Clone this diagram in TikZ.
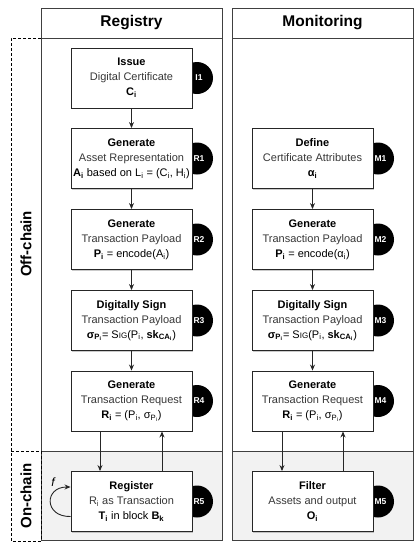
\documentclass[tikz,border=0pt]{standalone}
\usepackage{fontspec}
\setmainfont{Liberation Sans}
\usetikzlibrary{shadows,arrows.meta,calc}
\newcommand\subt[1]{{\color{black!78}#1}}
\newcommand\sigfn{S{\fontsize{8}{9}\selectfont IG}}
\tikzset{
  lane/.style={draw=black!75, line width=0.9pt},
  stepbox/.style={draw=black!85, fill=white, line width=0.9pt, minimum width=121pt, minimum height=60pt,
    align=center, font=\fontsize{11}{15}\selectfont, inner sep=0pt,
    drop shadow={shadow xshift=1.3pt, shadow yshift=-1.3pt, opacity=0.35, fill=black!60}},
  badge/.style={circle, fill=black, minimum size=32pt, inner sep=0pt},
  badgelbl/.style={text=white, font=\fontsize{8.5}{8.5}\selectfont\bfseries, inner sep=0pt},
  arr/.style={-{Stealth[length=6pt,width=5pt]}, line width=0.9pt, black!85},
  hdr/.style={font=\fontsize{15.5}{15.5}\selectfont\bfseries},
  side/.style={font=\fontsize{15}{15}\selectfont\bfseries, rotate=90},
}
\begin{document}
\begin{tikzpicture}[x=1pt,y=-1pt]
\useasboundingbox (0,0) rectangle (420,550);
% lanes
\fill[gray!10] (41,451) rectangle (222,540);
\fill[gray!10] (232,451) rectangle (413,540);
\draw[lane] (41,8) rectangle (222,540);
\draw[lane] (41,38) -- (222,38);
\draw[lane] (41,451) -- (222,451);
\draw[lane] (232,8) rectangle (413,540);
\draw[lane] (232,38) -- (413,38);
\draw[lane] (232,451) -- (413,451);
\node[hdr] (hreg) at (131.5,23) {Registry};
\node[hdr] (hmon) at (322.5,23) {Monitoring};
% dashed regions
\draw[line width=0.9pt, dash pattern=on 3pt off 2pt] (41,38) -- (11,38) -- (11,541) -- (41,541) -- (41,451);
\draw[line width=0.9pt, dash pattern=on 3pt off 2pt] (11,451) -- (41,451);
\node[side] (offc) at (26,244) {Off-chain};
\node[side] (onc) at (26,496) {On-chain};
% badges (behind boxes)
\node[badge] (bI1) at (197,78) {};
\node[badge] (bR1) at (197,158.5) {};
\node[badge] (bR2) at (197,239.5) {};
\node[badge] (bR3) at (197,320.5) {};
\node[badge] (bR4) at (197,401) {};
\node[badge] (bR5) at (197,501.5) {};
\node[badge] (bM1) at (378,158.5) {};
\node[badge] (bM2) at (378,239.5) {};
\node[badge] (bM3) at (378,320.5) {};
\node[badge] (bM4) at (378,401) {};
\node[badge] (bM5) at (378,501.5) {};
% registry boxes
\node[stepbox] (I1) at (131.5,78) {\textbf{Issue}\\ \subt{Digital Certificate}\\ \textbf{C\textsubscript{i}}};
\node[stepbox] (R1) at (131.5,158.5) {\textbf{Generate}\\ \subt{Asset Representation}\\ \textbf{A\textsubscript{i}} based on L\textsubscript{i} = (C\textsubscript{i}, H\textsubscript{i})};
\node[stepbox] (R2) at (131.5,239.5) {\textbf{Generate}\\ \subt{Transaction Payload}\\ \textbf{P\textsubscript{i}} = encode(A\textsubscript{i})};
\node[stepbox] (R3) at (131.5,320.5) {\textbf{Digitally Sign}\\ \subt{Transaction Payload}\\ \textbf{σ\textsubscript{P\textsubscript{i}}}= \sigfn(P\textsubscript{i}, \textbf{sk\textsubscript{CA\textsubscript{i}}})};
\node[stepbox] (R4) at (131.5,401) {\textbf{Generate}\\ \subt{Transaction Request}\\ \textbf{R\textsubscript{i}} = (P\textsubscript{i}, σ\textsubscript{P\textsubscript{i}})};
\node[stepbox] (R5) at (131.5,501.5) {\textbf{Register}\\ \subt{R\textsubscript{i} as Transaction}\\ \textbf{T\textsubscript{i}} in block \textbf{B\textsubscript{k}}};
% monitoring boxes
\node[stepbox] (M1) at (312.5,158.5) {\textbf{Define}\\ \subt{Certificate Attributes}\\ \textbf{α\textsubscript{i}}};
\node[stepbox] (M2) at (312.5,239.5) {\textbf{Generate}\\ \subt{Transaction Payload}\\ \textbf{P\textsubscript{i}} = encode(α\textsubscript{i})};
\node[stepbox] (M3) at (312.5,320.5) {\textbf{Digitally Sign}\\ \subt{Transaction Payload}\\ \textbf{σ\textsubscript{P\textsubscript{i}}}= \sigfn(P\textsubscript{i}, \textbf{sk\textsubscript{CA\textsubscript{i}}})};
\node[stepbox] (M4) at (312.5,401) {\textbf{Generate}\\ \subt{Transaction Request}\\ \textbf{R\textsubscript{i}} = (P\textsubscript{i}, σ\textsubscript{P\textsubscript{i}})};
\node[stepbox] (M5) at (312.5,501.5) {\textbf{Filter}\\ \subt{Assets and output}\\ \textbf{O\textsubscript{i}}};
% badge labels
\foreach \b/\t in {bI1/I1,bR1/R1,bR2/R2,bR3/R3,bR4/R4,bR5/R5}{
  \node[badgelbl] (l\b) at ($(\b.center)+(2,0)$) {\t};
}
\foreach \b/\t in {bM1/M1,bM2/M2,bM3/M3,bM4/M4,bM5/M5}{
  \node[badgelbl] (l\b) at ($(\b.center)+(2.5,0)$) {\t};
}
% arrows
\draw[arr] (I1) -- (R1);
\draw[arr] (R1) -- (R2);
\draw[arr] (R2) -- (R3);
\draw[arr] (R3) -- (R4);
\draw[arr] (M1) -- (M2);
\draw[arr] (M2) -- (M3);
\draw[arr] (M3) -- (M4);
\coordinate (xa) at (100,0);
\coordinate (xb) at (162,0);
\coordinate (xc) at (282,0);
\coordinate (xd) at (343,0);
\draw[arr] (R4.south -| xa) -- (R5.north -| xa);
\draw[arr] (R5.north -| xb) -- (R4.south -| xb);
\draw[arr] (M4.south -| xc) -- (M5.north -| xc);
\draw[arr] (M5.north -| xd) -- (M4.south -| xd);
% self loop
\draw[arr] ($(R5.west)+(0,15)$) .. controls (44,517) and (44,487) .. ($(R5.west)+(0,-14.5)$);
\node[font=\itshape\fontsize{12}{12}\selectfont] (flbl) at (53,482) {f};
\end{tikzpicture}
\end{document}
